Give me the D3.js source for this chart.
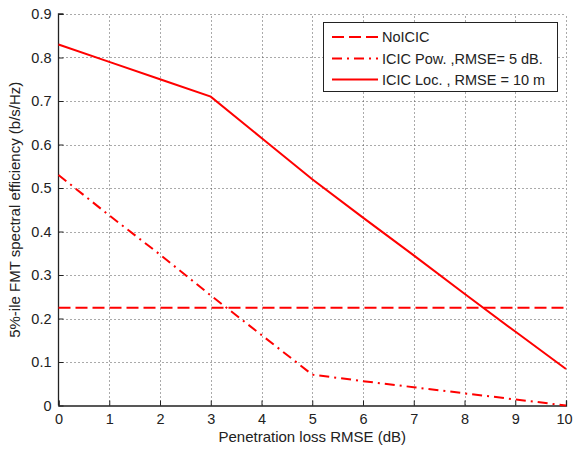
<!DOCTYPE html>
<html>
<head>
<meta charset="utf-8">
<script src="https://cdn.jsdelivr.net/npm/d3@7"></script>
<style>
  body { margin: 0; background: #fff; }
  svg text { font-family: "Liberation Sans", Arial, sans-serif; fill: #222; }
</style>
</head>
<body>
<div id="chart"></div>
<script>
// x values (penetration loss RMSE, dB)
var rmse = [0, 1, 2, 3, 4, 5, 6, 7, 8, 9, 10];

// series values
var noIcic   = [0.225, 0.225, 0.225, 0.225, 0.225, 0.225, 0.225, 0.225, 0.225, 0.225, 0.225];
var icicPow  = [0.53, 0.437, 0.347, 0.253, 0.162, 0.071, 0.056, 0.042, 0.028, 0.014, 0.0];
var icicLoc  = [0.83, 0.79, 0.75, 0.71, 0.615, 0.52, 0.432, 0.345, 0.257, 0.17, 0.084];

var seriesNames = ["NoICIC", "ICIC Pow. ,RMSE= 5 dB.", "ICIC Loc. , RMSE = 10 m"];

var xTicks = [0, 1, 2, 3, 4, 5, 6, 7, 8, 9, 10];
var yTicks = [0, 0.1, 0.2, 0.3, 0.4, 0.5, 0.6, 0.7, 0.8, 0.9];

var W = 573, H = 450;
var margin = {left: 58.5, right: 7, top: 14, bottom: 44.5};
var TICK_FONT = "14.5px", LABEL_FONT = "15px";

var svg = d3.select("#chart").append("svg")
    .attr("width", W)
    .attr("height", H);

var x = d3.scaleLinear().domain([0, 10]).range([margin.left, W - margin.right]);
var y = d3.scaleLinear().domain([0, 0.9]).range([H - margin.bottom, margin.top]);

// dotted grid
var grid = svg.append("g").attr("class", "grid");
grid.selectAll(".gx").data(xTicks.slice(1)).enter().append("line")
    .attr("x1", function (d) { return Math.round(x(d)) + 0.5; })
    .attr("x2", function (d) { return Math.round(x(d)) + 0.5; })
    .attr("y1", y(0)).attr("y2", y(0.9))
    .attr("stroke", "#555").attr("stroke-dasharray", "1,3");
grid.selectAll(".gy").data(yTicks.slice(1)).enter().append("line")
    .attr("y1", function (d) { return Math.round(y(d)) + 0.5; })
    .attr("y2", function (d) { return Math.round(y(d)) + 0.5; })
    .attr("x1", x(0)).attr("x2", x(10))
    .attr("stroke", "#555").attr("stroke-dasharray", "1,3");

// axes (ticks pointing inward, matlab style)
var xAxis = d3.axisBottom(x).tickValues(xTicks).tickSize(-5).tickPadding(8)
    .tickFormat(d3.format("d"));
var yAxis = d3.axisLeft(y).tickValues(yTicks).tickSize(-5).tickPadding(7)
    .tickFormat(function (d) { return d === 0 ? "0" : d3.format(".1f")(d); });

var gx = svg.append("g").attr("transform", "translate(0," + y(0) + ")").call(xAxis);
var gy = svg.append("g").attr("transform", "translate(" + x(0) + ",0)").call(yAxis);
[gx, gy].forEach(function (g) {
    g.select(".domain").attr("stroke", "#222").attr("stroke-width", 1.3);
    g.selectAll(".tick line").attr("stroke", "#222");
    g.selectAll("text").style("font-size", TICK_FONT).attr("fill", "#222");
});
gy.select(".domain").attr("d", "M0," + y(0) + "V" + y(0.9) + "h5");
// last x label sits against the right edge, keep it inside
gx.selectAll(".tick text").filter(function (d) { return d === 10; }).attr("dx", "-2");

// lines
var line = d3.line()
    .x(function (d, i) { return x(rmse[i]); })
    .y(function (d) { return y(d); });

var styles = [
    {data: noIcic, dash: "12,5"},
    {data: icicPow, dash: "10,5,2,5"},
    {data: icicLoc, dash: null}
];

styles.forEach(function (s) {
    svg.append("path")
        .datum(s.data)
        .attr("d", line)
        .attr("fill", "none")
        .attr("stroke", "#ff0000")
        .attr("stroke-width", 2)
        .attr("stroke-dasharray", s.dash);
});

// legend
var legend = svg.append("g").attr("class", "legend");
legend.append("rect")
    .attr("x", 323.5).attr("y", 22.5)
    .attr("width", 234).attr("height", 69)
    .attr("fill", "#fff").attr("stroke", "#222").attr("stroke-width", 1);
var rowY = [37, 58.5, 79.5];
styles.forEach(function (s, i) {
    legend.append("line")
        .attr("x1", 332).attr("x2", 378)
        .attr("y1", rowY[i]).attr("y2", rowY[i])
        .attr("stroke", "#ff0000").attr("stroke-width", 2)
        .attr("stroke-dasharray", s.dash);
    legend.append("text")
        .attr("x", 382).attr("y", rowY[i])
        .attr("dy", "0.35em")
        .style("font-size", TICK_FONT)
        .text(seriesNames[i]);
});

// axis labels
svg.append("text")
    .attr("x", (x(0) + x(10)) / 2).attr("y", 442)
    .attr("text-anchor", "middle")
    .style("font-size", LABEL_FONT)
    .text("Penetration loss RMSE (dB)");
svg.append("text")
    .attr("transform", "translate(20," + (y(0.45)) + ") rotate(-90)")
    .attr("text-anchor", "middle")
    .style("font-size", LABEL_FONT)
    .text("5%-ile FMT spectral efficiency (b/s/Hz)");
</script>
</body>
</html>
